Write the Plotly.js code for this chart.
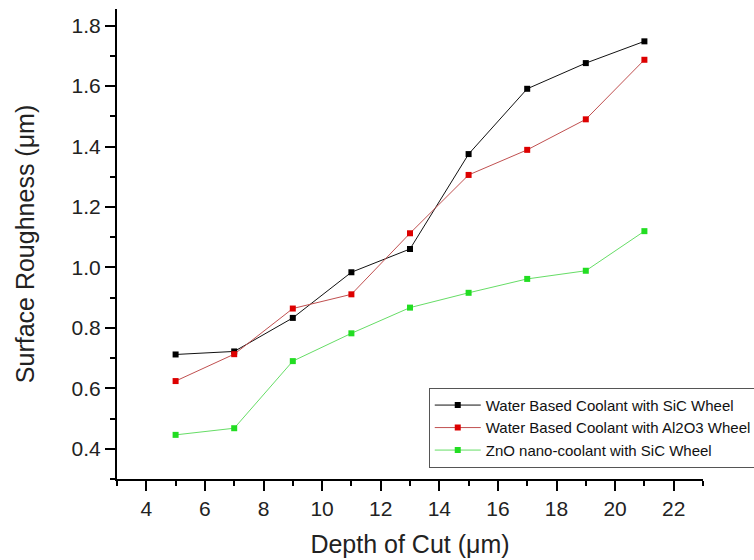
<!DOCTYPE html>
<html>
<head>
<meta charset="utf-8">
<script src="https://cdn.plot.ly/plotly-3.0.1.min.js"></script>
<style>html,body{margin:0;padding:0;background:#fff;}#chart{width:754px;height:560px;}</style>
</head>
<body>
<div id="chart"></div>
<script>
const depthOfCut = [5, 7, 9, 11, 13, 15, 17, 19, 21];
const waterSiC   = [0.712, 0.722, 0.833, 0.984, 1.061, 1.375, 1.591, 1.676, 1.748];
const waterAl2O3 = [0.624, 0.713, 0.864, 0.911, 1.113, 1.306, 1.389, 1.490, 1.687];
const znoSiC     = [0.446, 0.468, 0.690, 0.782, 0.867, 0.916, 0.962, 0.989, 1.120];
const seriesNames = [
  'Water Based Coolant with SiC Wheel',
  'Water Based Coolant with Al2O3 Wheel',
  'ZnO nano-coolant with SiC Wheel'
];
const xTitle = 'Depth of Cut (μm)';
const yTitle = 'Surface Roughness (μm)';

const font = 'Arial, "Liberation Sans", sans-serif';
function tr(y, name, lineColor, markerColor) {
  return {
    x: depthOfCut, y: y, name: name, type: 'scatter', mode: 'lines+markers',
    line: {color: lineColor, width: 1},
    marker: {symbol: 'square', size: 6, color: markerColor}
  };
}
const data = [
  tr(waterSiC, seriesNames[0], '#111111', '#000000'),
  tr(waterAl2O3, seriesNames[1], '#c05050', '#dd0000'),
  tr(znoSiC, seriesNames[2], '#66dd66', '#22dd22')
];
const axisCommon = {
  showline: true, linecolor: '#000', linewidth: 2, mirror: false,
  showgrid: false, zeroline: false,
  ticks: 'outside', ticklen: 10, tickwidth: 2, tickcolor: '#000',
  tickfont: {family: font, size: 21, color: '#222'},
  automargin: false
};
const layout = {
  width: 754, height: 560,
  margin: {l: 117, r: 51, t: 9, b: 81, autoexpand: false},
  paper_bgcolor: '#fff', plot_bgcolor: '#fff',
  font: {family: font, color: '#222'},
  showlegend: true,
  legend: {
    x: 0.532, y: 0.194, xanchor: 'left', yanchor: 'top',
    bgcolor: '#fff', bordercolor: '#555', borderwidth: 1,
    font: {family: font, size: 15, color: '#111'},
    tracegroupgap: 0, itemwidth: 46
  },
  xaxis: Object.assign({}, axisCommon, {
    range: [3, 23], tick0: 0, dtick: 2,
    minor: {ticks: 'outside', ticklen: 5, tickwidth: 2, tickcolor: '#000', dtick: 1, tick0: 0},
    title: {text: xTitle, font: {family: font, size: 25, color: '#222'}, standoff: 16}
  }),
  yaxis: Object.assign({}, axisCommon, {
    range: [0.3, 1.855], tick0: 0, dtick: 0.2, tickformat: '.1f',
    minor: {ticks: 'outside', ticklen: 5, tickwidth: 2, tickcolor: '#000', dtick: 0.1, tick0: 0},
    title: {text: yTitle, font: {family: font, size: 25, color: '#222'}, standoff: 30}
  })
};
Plotly.newPlot('chart', data, layout, {staticPlot: true, displayModeBar: false});
</script>
</body>
</html>
